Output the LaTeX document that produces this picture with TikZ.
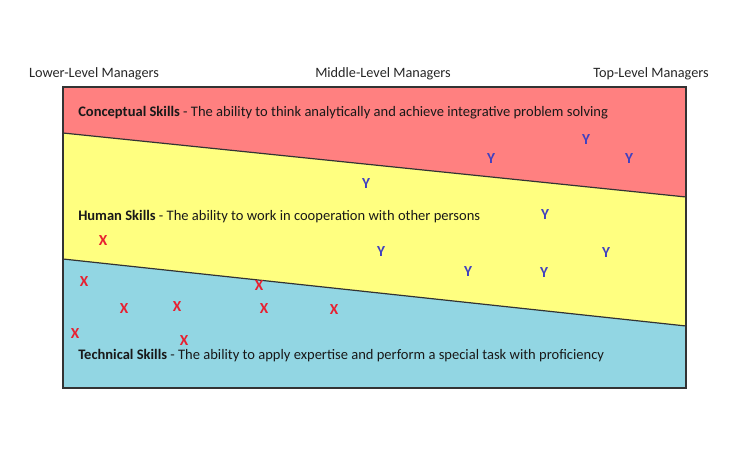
\documentclass[tikz,border=0pt]{standalone}
\usepackage{fontspec}
\setmainfont{Carlito}
\definecolor{conceptred}{RGB}{255,128,128}
\definecolor{humanyellow}{RGB}{255,255,128}
\definecolor{techblue}{RGB}{146,214,227}
\definecolor{markred}{RGB}{232,32,48}
\definecolor{markblue}{RGB}{64,64,192}
\tikzset{
  level/.style={font=\fontsize{10.7}{12}\selectfont, text=black!85},
  skill/.style={font=\fontsize{10.9}{12}\selectfont, anchor=west, inner sep=0pt, text=black!90},
  xmark/.style={font=\fontsize{11.5}{12}\selectfont\bfseries, text=markred, inner sep=0pt},
  ymark/.style={font=\fontsize{11.5}{12}\selectfont\bfseries, text=markblue, inner sep=0pt}
}
\begin{document}
\begin{tikzpicture}[x=0.75pt,y=0.75pt,yscale=-1]
\useasboundingbox (0,0) rectangle (753,449);

%Bands
\fill [conceptred] (63,87) -- (686,87) -- (686,197) -- (63,133) -- cycle ;
\fill [humanyellow] (63,133) -- (686,197) -- (686,326) -- (63,259) -- cycle ;
\fill [techblue] (63,259) -- (686,326) -- (686,388) -- (63,388) -- cycle ;

%Borders
\draw [black!80, line width=0.9] (63,133) -- (686,197) ;
\draw [black!80, line width=0.9] (63,259) -- (686,326) ;
\draw [black!80, line width=1.1] (63,87) rectangle (686,388) ;

% Level labels
\node [level] (lower) at (94,74) {Lower-Level Managers};
\node [level] (middle) at (383,74) {Middle-Level Managers};
\node [level] (top) at (651,74) {Top-Level Managers};

% Skill texts
\node [skill] (conceptual) at (78,113) {\textbf{Conceptual Skills} - The ability to think analytically and achieve integrative problem solving};
\node [skill] (human) at (78,217) {\textbf{Human Skills} - The ability to work in cooperation with other persons};
\node [skill] (technical) at (78,356) {\textbf{Technical Skills} - The ability to apply expertise and perform a special task with proficiency};

% Y marks
\foreach \px/\py [count=\i] in {366/184, 491/159, 586/140, 629/159, 545/215, 381/252, 468/272, 544/273, 606/253}
  \node [ymark] (y\i) at (\px,\py) {Y};

% X marks
\foreach \px/\py [count=\i] in {103/241, 84/282, 124/309, 177/307, 75/334, 184/341, 259/286, 264/309, 334/310}
  \node [xmark] (x\i) at (\px,\py) {X};

\end{tikzpicture}
\end{document}
